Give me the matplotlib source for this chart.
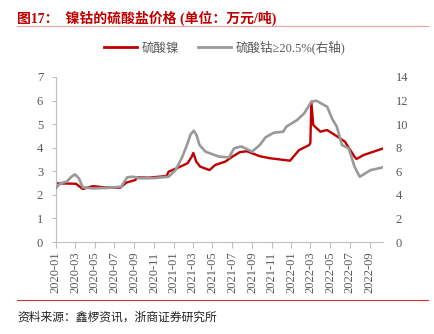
import matplotlib
matplotlib.use("Agg")
import matplotlib.pyplot as plt
import matplotlib.dates as mdates
import pandas as pd
from matplotlib.lines import Line2D

plt.rcParams['font.family'] = ['Liberation Serif', 'Noto Sans CJK SC', 'DejaVu Sans']

nickel_dates = ["2020-01-01", "2020-03-04", "2020-03-25", "2020-04-25", "2020-06-07", "2020-07-19",
                "2020-08-07", "2020-09-04", "2020-09-10", "2020-10-16", "2020-12-10", "2020-12-16",
                "2021-01-22", "2021-02-13", "2021-02-26", "2021-03-03", "2021-03-12", "2021-03-24",
                "2021-04-22", "2021-05-10", "2021-06-10", "2021-07-04", "2021-07-25", "2021-08-16",
                "2021-09-25", "2021-10-28", "2021-12-28", "2022-01-25", "2022-02-25", "2022-03-01",
                "2022-03-04", "2022-03-10", "2022-04-01", "2022-04-22", "2022-05-16", "2022-06-16",
                "2022-07-16", "2022-07-22", "2022-08-13", "2022-10-13"]
nickel_values = [2.49, 2.47, 2.25, 2.37, 2.31, 2.30,
                 2.52, 2.63, 2.74, 2.73, 2.80, 2.98,
                 3.20, 3.34, 3.62, 3.78, 3.41, 3.20,
                 3.05, 3.27, 3.41, 3.64, 3.81, 3.85,
                 3.64, 3.55, 3.45, 3.90, 4.11, 4.20,
                 5.95, 4.96, 4.68, 4.75, 4.54, 4.26,
                 3.62, 3.52, 3.69, 3.97]

cobalt_dates = ["2020-01-01", "2020-01-15", "2020-02-04", "2020-02-19", "2020-03-01", "2020-03-13",
                "2020-03-25", "2020-04-25", "2020-06-16", "2020-07-22", "2020-08-10", "2020-08-28",
                "2020-09-19", "2020-11-01", "2020-12-16", "2021-01-07", "2021-01-28", "2021-02-13",
                "2021-02-22", "2021-03-04", "2021-03-13", "2021-03-22", "2021-04-10", "2021-05-22",
                "2021-06-22", "2021-07-07", "2021-07-25", "2021-08-01", "2021-09-01", "2021-09-25",
                "2021-10-13", "2021-11-07", "2021-12-07", "2021-12-16", "2022-01-19", "2022-02-10",
                "2022-03-04", "2022-03-19", "2022-04-22", "2022-05-07", "2022-05-22", "2022-06-07",
                "2022-06-28", "2022-07-16", "2022-08-01", "2022-09-04", "2022-10-13"]
cobalt_values = [4.55, 4.98, 5.12, 5.54, 5.74, 5.40,
                 4.64, 4.55, 4.60, 4.69, 5.49, 5.54,
                 5.40, 5.42, 5.54, 6.10, 7.24, 8.37,
                 9.10, 9.44, 9.07, 8.23, 7.66, 7.24,
                 7.18, 7.94, 8.08, 8.09, 7.66, 8.23,
                 8.88, 9.27, 9.36, 9.78, 10.35, 10.92,
                 11.90, 11.99, 11.48, 10.49, 9.78, 8.23,
                 7.94, 6.39, 5.54, 6.10, 6.34]

tick_labels = ["2020-01", "2020-03", "2020-05", "2020-07", "2020-09", "2020-11",
               "2021-01", "2021-03", "2021-05", "2021-07", "2021-09", "2021-11",
               "2022-01", "2022-03", "2022-05", "2022-07", "2022-09"]

title = "图17：  镍钴的硫酸盐价格 (单位：万元/吨)"
source = "资料来源：鑫椤资讯，浙商证券研究所"
name_ni = "硫酸镍"
name_co = "硫酸钴≥20.5%(右轴)"

RED = "#C00000"
GREY = "#999999"
TXT = "#595959"
AX = "#BFBFBF"
SERIF_CJK = ['Liberation Serif', 'Noto Sans CJK SC', 'DejaVu Sans']

fig = plt.figure(figsize=(4.34, 3.34), dpi=100)
ax = fig.add_axes([0.1283, 0.2754, 0.7547, 0.4941])
ax2 = ax.twinx()

nd = pd.to_datetime(nickel_dates)
cd = pd.to_datetime(cobalt_dates)
ax.plot(nd, nickel_values, color=RED, lw=1.7, solid_joinstyle='round')
ax2.plot(cd, cobalt_values, color=GREY, lw=1.9, solid_joinstyle='round')

ax.set_ylim(0, 7)
ax2.set_ylim(0, 14)
ax.set_yticks(range(0, 8))
ax2.set_yticks(range(0, 15, 2))
ax.set_xlim(pd.Timestamp("2020-01-01"), pd.Timestamp("2022-10-13"))

ticks = pd.to_datetime([t + "-01" for t in tick_labels])
ax.set_xticks(ticks)
ax.set_xticklabels(tick_labels, rotation=90)

for a in (ax, ax2):
    for s in a.spines.values():
        s.set_visible(False)
ax.spines['left'].set_visible(True)
ax.spines['left'].set_color(AX)
ax.spines['bottom'].set_visible(True)
ax.spines['bottom'].set_color(AX)

ax.tick_params(axis='x', colors=AX, labelcolor=TXT, labelsize=9, length=4, direction='out', pad=3)
ax.tick_params(axis='y', colors=AX, labelcolor=TXT, labelsize=9, length=3, direction='out', pad=6)
ax2.tick_params(axis='y', length=0, labelcolor=TXT, labelsize=9, pad=9)

fig.text(0.04, 0.945, title, color=RED, fontsize=10, fontweight='bold',
         family=SERIF_CJK, va='center', ha='left')
fig.add_artist(Line2D([0.04, 0.986], [0.923, 0.923], color="#E8A0A0", lw=0.8))
fig.add_artist(Line2D([0.04, 0.986], [0.102, 0.102], color="#D03030", lw=0.8))
fig.text(0.04, 0.05, source, color="#222222", fontsize=8.5,
         family=['Noto Sans CJK SC', 'DejaVu Sans'], va='center', ha='left')

handles = [Line2D([], [], color=RED, lw=2), Line2D([], [], color=GREY, lw=2)]
leg = fig.legend(handles, [name_ni, name_co], loc='center', bbox_to_anchor=(0.518, 0.857),
                 ncol=2, frameon=False, handlelength=2.6, columnspacing=1.5,
                 handletextpad=0.4, prop={'family': SERIF_CJK, 'size': 9})
for t in leg.get_texts():
    t.set_color(TXT)

fig.savefig("out.png", dpi=100, facecolor='white')
